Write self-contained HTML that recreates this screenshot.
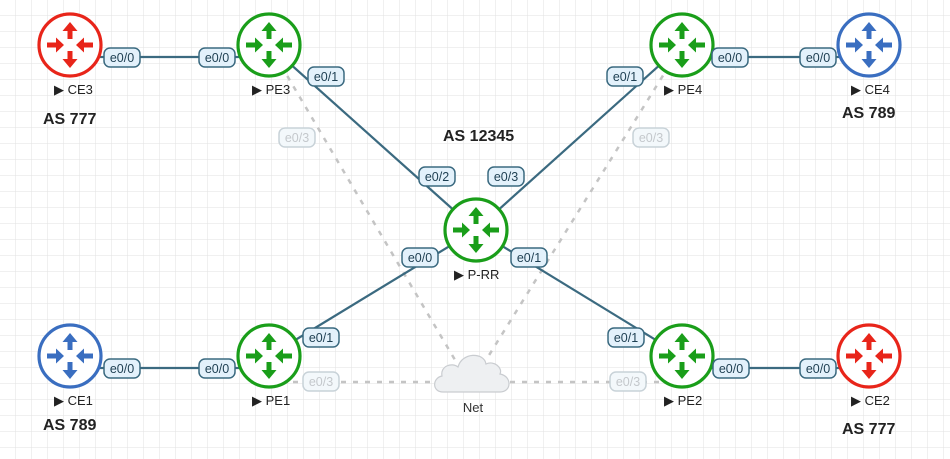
<!DOCTYPE html>
<html><head><meta charset="utf-8"><style>
html,body{margin:0;padding:0;background:#fff}
svg{display:block}
text{font-family:"Liberation Sans",sans-serif}
</style></head><body>
<svg width="950" height="459" viewBox="0 0 950 459" xmlns="http://www.w3.org/2000/svg">
<defs>
<pattern id="g" width="16" height="16" patternUnits="userSpaceOnUse">
<path d="M16 0V16H0" fill="none" stroke="#e2e2e2" stroke-width="1"/>
</pattern>
<g id="arr">
<path d="M0,-23 L-7.5,-14 L-2.5,-14 L-2.5,-6 L2.5,-6 L2.5,-14 L7.5,-14 Z"/>
<path d="M0,23 L-7.5,14 L-2.5,14 L-2.5,6 L2.5,6 L2.5,14 L7.5,14 Z"/>
<path d="M-6,0 L-14,-7.5 L-14,-2.5 L-23,-2.5 L-23,2.5 L-14,2.5 L-14,7.5 Z"/>
<path d="M6,0 L14,-7.5 L14,-2.5 L23,-2.5 L23,2.5 L14,2.5 L14,7.5 Z"/>
</g>
</defs>
<rect width="950" height="459" fill="url(#g)"/>

<g stroke="#c4c4c4" stroke-width="2.5" stroke-dasharray="5,7" fill="none">
<line x1="269" y1="45" x2="458" y2="365"/>
<line x1="682" y1="45" x2="486" y2="360"/>
<line x1="269" y1="382" x2="440" y2="382"/>
<line x1="510" y1="382" x2="682" y2="382"/>
</g>
<g stroke="#3b6a80" stroke-width="2.2">
<line x1="70" y1="57" x2="269" y2="57"/>
<line x1="682" y1="57" x2="869" y2="57"/>
<line x1="70" y1="368" x2="269" y2="368"/>
<line x1="682" y1="368" x2="869" y2="368"/>
<line x1="269" y1="45" x2="476" y2="230"/>
<line x1="682" y1="45" x2="476" y2="230"/>
<line x1="269" y1="356" x2="476" y2="230"/>
<line x1="682" y1="356" x2="476" y2="230"/>
</g>

<g>
<path d="M443,392 C432,392 432,378 442,376 C440,366 452,362 458,367 C462,352 484,352 486,364 C494,360 503,368 500,374 C512,376 512,392 500,392 Z" fill="#eef0f2" stroke="#c9ccd0" stroke-width="1.2"/>
<text x="473" y="412" font-size="13" text-anchor="middle" fill="#333">Net</text>
</g>

<g stroke-width="3.2" fill="#fff">
<circle cx="70" cy="45" r="31" stroke="#e8251a"/>
<circle cx="269" cy="45" r="31" stroke="#1a9e1a"/>
<circle cx="682" cy="45" r="31" stroke="#1a9e1a"/>
<circle cx="869" cy="45" r="31" stroke="#3a6ec0"/>
<circle cx="476" cy="230" r="31" stroke="#1a9e1a"/>
<circle cx="70" cy="356" r="31" stroke="#3a6ec0"/>
<circle cx="269" cy="356" r="31" stroke="#1a9e1a"/>
<circle cx="682" cy="356" r="31" stroke="#1a9e1a"/>
<circle cx="869" cy="356" r="31" stroke="#e8251a"/>
</g>
<use href="#arr" x="70" y="45" fill="#e8251a"/>
<use href="#arr" x="269" y="45" fill="#1a9e1a"/>
<use href="#arr" x="682" y="45" fill="#1a9e1a"/>
<use href="#arr" x="869" y="45" fill="#3a6ec0"/>
<use href="#arr" x="476" y="230" fill="#1a9e1a"/>
<use href="#arr" x="70" y="356" fill="#3a6ec0"/>
<use href="#arr" x="269" y="356" fill="#1a9e1a"/>
<use href="#arr" x="682" y="356" fill="#1a9e1a"/>
<use href="#arr" x="869" y="356" fill="#e8251a"/>

<g font-size="13" fill="#222">
<text x="54" y="94">▶ CE3</text>
<text x="252" y="94">▶ PE3</text>
<text x="664" y="94">▶ PE4</text>
<text x="851" y="94">▶ CE4</text>
<text x="454" y="279">▶ P-RR</text>
<text x="54" y="405">▶ CE1</text>
<text x="252" y="405">▶ PE1</text>
<text x="664" y="405">▶ PE2</text>
<text x="851" y="405">▶ CE2</text>
</g>
<g font-size="16" font-weight="bold" fill="#222">
<text x="43" y="124">AS 777</text>
<text x="842" y="118">AS 789</text>
<text x="443" y="141">AS 12345</text>
<text x="43" y="430">AS 789</text>
<text x="842" y="434">AS 777</text>
</g>

<g font-size="12.5" text-anchor="middle">
<g fill="#e3f1fb" stroke="#3b6a80" stroke-width="1.5">
<rect x="104" y="48" width="36" height="19" rx="6"/>
<rect x="199" y="48" width="36" height="19" rx="6"/>
<rect x="308" y="67" width="36" height="19" rx="6"/>
<rect x="419" y="167" width="36" height="19" rx="6"/>
<rect x="488" y="167" width="36" height="19" rx="6"/>
<rect x="607" y="67" width="36" height="19" rx="6"/>
<rect x="712" y="48" width="36" height="19" rx="6"/>
<rect x="800" y="48" width="36" height="19" rx="6"/>
<rect x="402" y="248" width="36" height="19" rx="6"/>
<rect x="511" y="248" width="36" height="19" rx="6"/>
<rect x="303" y="328" width="36" height="19" rx="6"/>
<rect x="608" y="328" width="36" height="19" rx="6"/>
<rect x="104" y="359" width="36" height="19" rx="6"/>
<rect x="199" y="359" width="36" height="19" rx="6"/>
<rect x="713" y="359" width="36" height="19" rx="6"/>
<rect x="800" y="359" width="36" height="19" rx="6"/>
</g>
<g fill="#f3f8fb" stroke="#c8d2d8" stroke-width="1.5">
<rect x="279" y="128" width="36" height="19" rx="6"/>
<rect x="633" y="128" width="36" height="19" rx="6"/>
<rect x="303" y="372" width="36" height="19" rx="6"/>
<rect x="610" y="372" width="36" height="19" rx="6"/>
</g>
<g fill="#1e3f52">
<text x="122" y="62">e0/0</text>
<text x="217" y="62">e0/0</text>
<text x="326" y="81">e0/1</text>
<text x="437" y="181">e0/2</text>
<text x="506" y="181">e0/3</text>
<text x="625" y="81">e0/1</text>
<text x="730" y="62">e0/0</text>
<text x="818" y="62">e0/0</text>
<text x="420" y="262">e0/0</text>
<text x="529" y="262">e0/1</text>
<text x="321" y="342">e0/1</text>
<text x="626" y="342">e0/1</text>
<text x="122" y="373">e0/0</text>
<text x="217" y="373">e0/0</text>
<text x="731" y="373">e0/0</text>
<text x="818" y="373">e0/0</text>
</g>
<g fill="#c4c8cc">
<text x="297" y="142">e0/3</text>
<text x="651" y="142">e0/3</text>
<text x="321" y="386">e0/3</text>
<text x="628" y="386">e0/3</text>
</g>
</g>
</svg>
</body></html>
